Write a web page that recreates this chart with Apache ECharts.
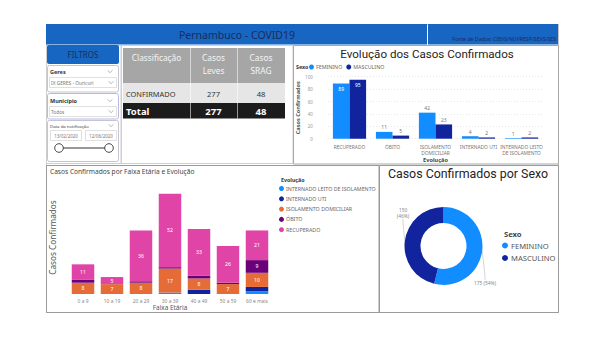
<!DOCTYPE html>
<html>
<head>
<meta charset="utf-8">
<script src="https://cdn.jsdelivr.net/npm/echarts@6/dist/echarts.min.js"></script>
<style>
  html, body { margin: 0; padding: 0; background: #ffffff; }
  #painel { width: 600px; height: 338px; }
</style>
</head>
<body>
<div id="painel"></div>
<script>
// ---- Dados do painel ----
const categoriasEvolucao = ['RECUPERADO', 'ÓBITO', 'ISOLAMENTO\nDOMICILIAR', 'INTERNADO UTI', 'INTERNADO LEITO\nDE ISOLAMENTO'];
const femininoEvolucao = [89, 11, 42, 4, 1];
const masculinoEvolucao = [95, 5, 23, 2, 2];
const ticksEvolucao = [0, 20, 40, 60, 80, 100];

const faixasEtarias = ['0 a 9', '10 a 19', '20 a 29', '30 a 39', '40 a 49', '50 a 59', '60 e mais'];
const leitoIsolamento = [0, 0, 0, 1, 0, 0, 2];
const internadoUti = [0, 0, 0, 0, 3, 0, 3];
const isolamentoDomiciliar = [8, 7, 8, 17, 8, 7, 10];
const obito = [2, 0, 1, 1, 2, 1, 9];
const recuperado = [11, 5, 36, 52, 33, 26, 21];

const sexoNomes = ['FEMININO', 'MASCULINO'];
const sexoTotais = [175, 150];

const classificacoes = ['CONFIRMADO'];
const casosLeves = [277];
const casosSrag = [48];

const geres = 'IX GERES - Ouricuri';
const municipio = 'Todos';
const dataInicio = '13/02/2020';
const dataFim = '12/06/2020';

// ---- Cores ----
const AZUL = '#118DFF', AZUL_ESC = '#12239E', LARANJA = '#E66C37', ROXO = '#6B007B', ROSA = '#E044A7';
const FAIXA = '#1767C2', TXT_FAIXA = '#1C2B5A';
const FONTE = '"Noto Sans", "Open Sans", sans-serif';

const chart = echarts.init(document.getElementById('painel'), null, { renderer: 'svg' });

function txt(x, y, text, size, fill, extra) {
  return Object.assign({ type: 'text', x: x, y: y, silent: true,
    style: Object.assign({ text: text, fontSize: size, fill: fill, fontFamily: FONTE,
      align: 'left', verticalAlign: 'middle' }, (extra && extra.style) || {}) },
    extra ? { z: extra.z } : {});
}
function caixa(x, y, w, h, fill, stroke, extra) {
  return Object.assign({ type: 'rect', shape: { x: x, y: y, width: w, height: h, r: (extra && extra.r) || 0 },
    silent: true, z: (extra && extra.z) || 0,
    style: { fill: fill, stroke: stroke, lineWidth: (extra && extra.lw) || 1, lineDash: extra && extra.dash } });
}
function seta(x, y) {
  return { type: 'polyline', silent: true, shape: { points: [[x - 2.5, y - 1.2], [x, y + 1.2], [x + 2.5, y - 1.2]] },
    style: { stroke: '#888', lineWidth: 0.6, fill: null } };
}

// ---- Moldura, filtros e tabela ----
const g = [];
g.push(caixa(46.5, 24.5, 512, 288, null, '#8a8a8a', { dash: [1, 1] }));
g.push(caixa(46, 24, 381, 20.5, FAIXA, null));
g.push(caixa(428, 24, 130, 20.5, FAIXA, null));
g.push(txt(237, 35, 'Pernambuco - COVID19', 10.5, TXT_FAIXA, { style: { align: 'center' } }));
g.push(txt(556, 38.5, 'Fonte de Dados: CIEVS/NUVRESP/SEVS/SES', 5.2, TXT_FAIXA, { style: { align: 'right' } }));

// painéis
g.push(caixa(46.5, 45.5, 74.5, 118, null, '#cfcfcf'));
g.push(caixa(121.5, 45.5, 171.5, 118, null, '#cfcfcf'));
g.push(caixa(293.5, 45.5, 265, 118.5, null, '#a8a8a8'));
g.push(caixa(46.5, 165.5, 332.5, 147, null, '#9a9a9a'));
g.push(caixa(379.5, 165.5, 179, 147, null, '#9a9a9a'));

// filtros
g.push(caixa(47, 45, 72, 19, FAIXA, null, { r: 2 }));
g.push(txt(83, 54.5, 'FILTROS', 8, TXT_FAIXA, { style: { align: 'center' } }));
g.push(caixa(47.5, 65.5, 71, 26.5, '#fff', '#c4c4d4', { r: 2 }));
g.push(txt(50, 71.5, 'Geres', 5.5, '#333', { style: { fontWeight: 'bold' } }));
g.push(seta(110, 71.5));
g.push(caixa(49.5, 77.5, 67, 10, '#fff', '#e0e0e0'));
g.push(txt(51, 82.5, geres, 4.8, '#777'));
g.push(seta(111, 82.5));
g.push(caixa(47.5, 93.5, 71, 25.5, '#fff', '#b9b9e0', { r: 2 }));
g.push(txt(50, 100.5, 'Município', 5.5, '#333', { style: { fontWeight: 'bold' } }));
g.push(seta(110, 100.5));
g.push(caixa(49.5, 106.5, 67, 10, '#fff', '#e0e0e0'));
g.push(txt(51, 111.5, municipio, 4.8, '#777'));
g.push(seta(111, 111.5));
g.push(caixa(47.5, 120.5, 71, 41, '#fff', '#c4c4d4', { r: 2 }));
g.push(txt(50, 125.5, 'Data da notificação', 4.3, '#444'));
g.push(seta(111, 125.5));
g.push(caixa(50.5, 130.5, 31, 10, '#fff', '#e0e0e0'));
g.push(caixa(85.5, 130.5, 31, 10, '#fff', '#e0e0e0'));
g.push(txt(66, 135.5, dataInicio, 4.4, '#777', { style: { align: 'center' } }));
g.push(txt(101, 135.5, dataFim, 4.4, '#777', { style: { align: 'center' } }));
g.push({ type: 'line', silent: true, shape: { x1: 59, y1: 148, x2: 109, y2: 148 }, style: { stroke: '#333', lineWidth: 1 } });
g.push({ type: 'circle', silent: true, shape: { cx: 59, cy: 148, r: 4.3 }, style: { fill: '#fff', stroke: '#333', lineWidth: 0.9 } });
g.push({ type: 'circle', silent: true, shape: { cx: 109, cy: 148, r: 4.3 }, style: { fill: '#fff', stroke: '#333', lineWidth: 0.9 } });

// tabela de classificação
const colX = [123, 190, 237, 285];
g.push(caixa(123, 48, 162, 35, '#a6a6a6', null));
g.push(txt(156.5, 57.5, 'Classificação', 8.3, '#f4f4f4', { style: { align: 'center' } }));
g.push(txt(213.5, 57.5, 'Casos', 8.3, '#f4f4f4', { style: { align: 'center' } }));
g.push(txt(213.5, 70.5, 'Leves', 8.3, '#f4f4f4', { style: { align: 'center' } }));
g.push(txt(261, 57.5, 'Casos', 8.3, '#f4f4f4', { style: { align: 'center' } }));
g.push(txt(261, 70.5, 'SRAG', 8.3, '#f4f4f4', { style: { align: 'center' } }));
let linhaY = 83;
classificacoes.forEach(function (c, i) {
  g.push(caixa(123, linhaY, 162, 20, '#e6e6e6', null));
  g.push(txt(126, linhaY + 10.5, c, 7.4, '#333'));
  g.push(txt(213.5, linhaY + 10.5, String(casosLeves[i]), 7.6, '#333', { style: { align: 'center' } }));
  g.push(txt(261, linhaY + 10.5, String(casosSrag[i]), 7.6, '#333', { style: { align: 'center' } }));
  linhaY += 20;
});
const somar = function (a) { return a.reduce(function (s, v) { return s + v; }, 0); };
g.push(caixa(123, linhaY, 162, 15.5, '#1c1c1c', null));
g.push(txt(126, linhaY + 8, 'Total', 9.5, '#fff', { style: { fontWeight: 'bold' } }));
g.push(txt(213.5, linhaY + 8, String(somar(casosLeves)), 9.5, '#fff', { style: { align: 'center', fontWeight: 'bold' } }));
g.push(txt(261, linhaY + 8, String(somar(casosSrag)), 9.5, '#fff', { style: { align: 'center', fontWeight: 'bold' } }));
[colX[1], colX[2]].forEach(function (x) {
  g.push({ type: 'line', silent: true, shape: { x1: x + 0.5, y1: 48, x2: x + 0.5, y2: linhaY + 15.5 },
    style: { stroke: 'rgba(255,255,255,0.55)', lineWidth: 1 } });
});

// títulos de legendas
g.push(txt(296, 67, 'Sexo', 5.3, '#333', { style: { fontWeight: 'bold' } }));
g.push(txt(281, 179.5, 'Evolução', 5.3, '#333', { style: { fontWeight: 'bold' } }));
g.push(txt(504, 234, 'Sexo', 7.6, '#444', { style: { fontWeight: 'bold' } }));

const rotuloSegmento = {
  show: true, position: 'inside', color: '#fff', fontSize: 5.2, fontFamily: FONTE,
  formatter: function (p) { return p.value >= 5 ? p.value : ''; }
};
function serieEmpilhada(nome, dados, cor) {
  return { name: nome, type: 'bar', stack: 'faixa', xAxisIndex: 1, yAxisIndex: 1, data: dados,
    barWidth: 22.5, itemStyle: { color: cor }, label: rotuloSegmento, emphasis: { disabled: true } };
}
function rotulosEvolucao(valores) {
  return valores.map(function (v, i) {
    return i === 0
      ? { value: v, label: { position: 'insideTop', color: '#fff', distance: 3 } }
      : { value: v, label: { position: 'top', color: '#777', distance: 2 } };
  });
}

chart.setOption({
  animation: false,
  textStyle: { fontFamily: FONTE },
  title: [
    { text: 'Evolução dos Casos Confirmados', left: 427, top: 48, padding: 0, textAlign: 'center',
      textStyle: { fontSize: 11.6, fontWeight: 'normal', color: '#252423', fontFamily: 'Roboto, ' + FONTE } },
    { text: 'Casos Confirmados por Faixa Etária e Evolução', left: 50, top: 167.5, padding: 0,
      textStyle: { fontSize: 6.6, fontWeight: 'normal', color: '#444' } },
    { text: 'Casos Confirmados por Sexo', left: 468, top: 167, padding: 0, textAlign: 'center',
      textStyle: { fontSize: 12.4, fontWeight: 'normal', color: '#252423', fontFamily: 'Roboto, ' + FONTE } }
  ],
  legend: [
    { data: sexoNomes.slice(), left: 309, top: 64.5, padding: 0, itemWidth: 5, itemHeight: 5, itemGap: 4, icon: 'circle',
      selectedMode: false, textStyle: { fontSize: 5.3, color: '#666', padding: [0, 0, 0, -3] } },
    { data: ['INTERNADO LEITO DE ISOLAMENTO', 'INTERNADO UTI', 'ISOLAMENTO DOMICILIAR', 'ÓBITO', 'RECUPERADO'],
      orient: 'vertical', left: 279, top: 185.5, padding: 0, itemWidth: 5, itemHeight: 5, itemGap: 4.3, icon: 'circle',
      selectedMode: false, textStyle: { fontSize: 5.3, color: '#666', lineHeight: 6, padding: [0, 0, 0, -3] } },
    { data: sexoNomes.slice(), orient: 'vertical', left: 502, top: 241.5, padding: 0, itemWidth: 6, itemHeight: 6, itemGap: 4.5,
      icon: 'circle', selectedMode: false, textStyle: { fontSize: 7.6, color: '#555', padding: [0, 0, 0, -2] } }
  ],
  grid: [
    { left: 328, top: 76.7, width: 215, height: 62 },
    { left: 68.5, top: 181, width: 203, height: 113 }
  ],
  xAxis: [
    { type: 'category', gridIndex: 0, data: categoriasEvolucao,
      axisLine: { show: false }, axisTick: { show: false },
      axisLabel: { fontSize: 4.9, color: '#777', lineHeight: 5.5, margin: 6, interval: 0 },
      name: 'Evolução', nameLocation: 'middle', nameGap: 17.5,
      nameTextStyle: { fontSize: 5.6, color: '#444', fontWeight: 'bold' } },
    { type: 'category', gridIndex: 1, data: faixasEtarias,
      axisLine: { show: false }, axisTick: { show: false },
      axisLabel: { fontSize: 4.9, color: '#888', margin: 4, interval: 0 },
      name: 'Faixa Etária', nameLocation: 'middle', nameGap: 10,
      nameTextStyle: { fontSize: 6.4, color: '#555' } }
  ],
  yAxis: [
    { type: 'value', gridIndex: 0, min: ticksEvolucao[0], max: ticksEvolucao[ticksEvolucao.length - 1],
      interval: ticksEvolucao[1] - ticksEvolucao[0],
      axisLine: { show: false }, axisTick: { show: false },
      axisLabel: { fontSize: 4.6, color: '#999', margin: 15 },
      splitLine: { lineStyle: { color: '#d8d8d8', type: [1, 2], width: 0.6 } },
      name: 'Casos Confirmados', nameLocation: 'middle', nameGap: 26,
      nameTextStyle: { fontSize: 5.6, color: '#555', fontWeight: 'bold' } },
    { type: 'value', gridIndex: 1, min: 0, max: 80, show: true,
      axisLine: { show: false }, axisTick: { show: false }, axisLabel: { show: false }, splitLine: { show: false },
      name: 'Casos Confirmados', nameLocation: 'middle', nameGap: 12,
      nameTextStyle: { fontSize: 8.2, color: '#555' } }
  ],
  series: [
    { name: 'FEMININO', type: 'bar', xAxisIndex: 0, yAxisIndex: 0, data: rotulosEvolucao(femininoEvolucao),
      barWidth: 16.6, barGap: '0%', itemStyle: { color: AZUL }, emphasis: { disabled: true },
      label: { show: true, fontSize: 5, fontFamily: FONTE } },
    { name: 'MASCULINO', type: 'bar', xAxisIndex: 0, yAxisIndex: 0, data: rotulosEvolucao(masculinoEvolucao),
      barWidth: 16.6, barGap: '0%', itemStyle: { color: AZUL_ESC }, emphasis: { disabled: true },
      label: { show: true, fontSize: 5, fontFamily: FONTE } },
    serieEmpilhada('INTERNADO LEITO DE ISOLAMENTO', leitoIsolamento, AZUL),
    serieEmpilhada('INTERNADO UTI', internadoUti, AZUL_ESC),
    serieEmpilhada('ISOLAMENTO DOMICILIAR', isolamentoDomiciliar, LARANJA),
    serieEmpilhada('ÓBITO', obito, ROXO),
    serieEmpilhada('RECUPERADO', recuperado, ROSA),
    { name: 'Sexo', type: 'pie', center: [443.5, 246], radius: [23, 39], startAngle: 90, clockwise: true,
      percentPrecision: 0, emphasis: { disabled: true },
      data: sexoNomes.map(function (n, i) {
        return { name: n, value: sexoTotais[i], itemStyle: { color: i === 0 ? AZUL : AZUL_ESC } };
      }),
      label: { show: true, fontSize: 4.8, color: '#888', fontFamily: FONTE, align: 'center', lineHeight: 6,
        formatter: function (p) { return p.dataIndex === 0 ? p.value + ' (' + p.percent + '%)' : p.value + '\n(' + p.percent + '%)'; } },
      labelLine: { show: true, length: 4, length2: 4, lineStyle: { color: '#bbb', width: 0.6 } },
      labelLayout: function (p) {
        return p.dataIndex === 0
          ? { x: 485, y: 283, align: 'center', verticalAlign: 'middle' }
          : { x: 403, y: 213, align: 'center', verticalAlign: 'middle' };
      }
    }
  ],
  graphic: g
});
</script>
</body>
</html>
